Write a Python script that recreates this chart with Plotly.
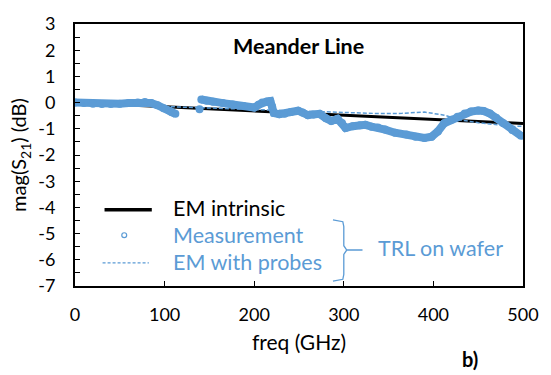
import plotly.graph_objects as go

# ---- data ----
f_intr = [0, 100, 200, 300, 400, 500]
v_intr = [0.0, -0.16, -0.31, -0.46, -0.63, -0.80]

f_probe = [0, 50, 100, 150, 200, 250, 300, 340, 365, 390, 412, 430, 450, 471, 490, 500]
v_probe = [0.0, -0.06, -0.15, -0.21, -0.27, -0.33, -0.38, -0.42, -0.41, -0.36, -0.48, -0.66, -0.77, -0.85, -0.91, -0.90]

f_meas1 = [0, 10, 20, 30, 40, 50, 60, 70, 78, 85, 92, 99, 105, 108, 112]
v_meas1 = [0.0, -0.02, -0.04, -0.05, -0.05, -0.04, -0.02, 0.0, 0.02, -0.02, -0.10, -0.22, -0.30, -0.37, -0.43]

f_meas2 = [139]
v_meas2 = [-0.25]

f_meas3 = [141, 147, 154, 165, 176, 188, 200, 205, 209, 214, 218, 220, 222, 228, 234, 241, 249, 254, 260,
           266, 273, 280, 286, 293, 298, 302, 310, 318, 324, 331, 338, 346, 357, 370, 380, 390, 398, 405,
           412, 420, 427, 435, 442, 450, 456, 463, 470, 478, 488, 498]
v_meas3 = [0.12, 0.07, 0.03, -0.02, -0.07, -0.13, -0.19, -0.08, 0.0, 0.04, 0.06, -0.15, -0.40, -0.44, -0.43,
           -0.36, -0.31, -0.38, -0.48, -0.45, -0.43, -0.60, -0.70, -0.62, -0.78, -0.97, -0.90, -0.86, -0.85,
           -0.92, -0.95, -1.03, -1.15, -1.22, -1.30, -1.35, -1.30, -1.10, -0.79, -0.65, -0.54, -0.42, -0.34,
           -0.30, -0.32, -0.42, -0.58, -0.79, -1.05, -1.27]

x_ticks = [0, 100, 200, 300, 400, 500]
y_ticks = [3, 2, 1, 0, -1, -2, -3, -4, -5, -6, -7]

BLUE = "#5B9BD5"
FONT = "Lato"

# ---- figure ----
fig = go.Figure()

fig.add_trace(go.Scatter(x=f_intr, y=v_intr, mode="lines",
                         line=dict(color="black", width=3), showlegend=False))

for fx, vy in [(f_meas1, v_meas1), (f_meas2, v_meas2), (f_meas3, v_meas3)]:
    fig.add_trace(go.Scatter(x=fx, y=vy, mode="lines+markers",
                             line=dict(color=BLUE, width=8),
                             marker=dict(color=BLUE, size=8),
                             showlegend=False))

fig.add_trace(go.Scatter(x=f_probe, y=v_probe, mode="lines",
                         line=dict(color=BLUE, width=1.5, dash="4px,2px"), showlegend=False))

# plot area pixel geometry
L, R, T, B = 75, 530, 13, 286
W, H = 551, 375


def px(x):
    return (x - L) / (R - L)


def py(y):
    return (B - y) / (B - T)


shapes = []
# legend symbols
shapes.append(dict(type="line", xref="paper", yref="paper", x0=px(105), x1=px(153), y0=py(206.5), y1=py(206.5),
                   line=dict(color="black", width=3.5)))
shapes.append(dict(type="circle", xref="paper", yref="paper", x0=px(122.5), x1=px(127.5), y0=py(230.5), y1=py(235.5),
                   line=dict(color=BLUE, width=1.2), fillcolor="white"))
shapes.append(dict(type="line", xref="paper", yref="paper", x0=px(103), x1=px(150), y0=py(262), y1=py(262),
                   line=dict(color=BLUE, width=1.3, dash="3px,2px")))
# brace
pts = [(337, 217), (347, 219), (348, 224), (348, 244), (351, 248.5), (367, 248.5),
       (351, 248.5), (348, 253), (348, 274), (347, 279), (337, 281)]
path = "M " + " L ".join(f"{px(a):.5f},{py(b):.5f}" for a, b in pts)
shapes.append(dict(type="path", xref="paper", yref="paper", path=path,
                   line=dict(color=BLUE, width=1.3)))

LEG = 21.5
annotations = [
    dict(text="<b>Meander Line</b>", x=px(302), y=py(36), xref="paper", yref="paper",
         showarrow=False, font=dict(size=21.5, color="black", family=FONT), xanchor="center", yanchor="middle"),
    dict(text="EM intrinsic", x=px(172), y=py(205), xref="paper", yref="paper",
         showarrow=False, font=dict(size=LEG, color="black", family=FONT), xanchor="left", yanchor="middle"),
    dict(text="Measurement", x=px(172), y=py(233), xref="paper", yref="paper",
         showarrow=False, font=dict(size=LEG, color=BLUE, family=FONT), xanchor="left", yanchor="middle"),
    dict(text="EM with probes", x=px(172), y=py(261), xref="paper", yref="paper",
         showarrow=False, font=dict(size=LEG, color=BLUE, family=FONT), xanchor="left", yanchor="middle"),
    dict(text="TRL on wafer", x=px(381), y=py(246.5), xref="paper", yref="paper",
         showarrow=False, font=dict(size=LEG, color=BLUE, family=FONT), xanchor="left", yanchor="middle"),
    dict(text="<b>b)</b>", x=px(476), y=py(362), xref="paper", yref="paper",
         showarrow=False, font=dict(size=20, color="black", family=FONT), xanchor="center", yanchor="middle"),
]

fig.update_layout(
    width=W, height=H,
    margin=dict(l=L, r=W - R, t=T, b=H - B),
    paper_bgcolor="white", plot_bgcolor="white",
    font=dict(family=FONT, size=18, color="black"),
    showlegend=False,
    shapes=shapes, annotations=annotations,
    xaxis=dict(range=[0, 500], tickvals=x_ticks, ticktext=[str(t) for t in x_ticks],
               ticks="inside", ticklen=5, tickwidth=1.2, tickcolor="black",
               showline=True, linecolor="black", linewidth=1.8, mirror=True,
               showgrid=False, zeroline=False, ticklabelstandoff=11,
               title=dict(text="freq (GHz)", font=dict(size=21), standoff=12)),
    yaxis=dict(range=[-7, 3], tickvals=y_ticks, ticktext=[str(t) for t in y_ticks],
               ticks="inside", ticklen=5, tickwidth=1.2, tickcolor="black",
               minor=dict(dtick=0.5, ticks="inside", ticklen=5, tickwidth=1.2, tickcolor="black", showgrid=False),
               showline=True, linecolor="black", linewidth=1.8, mirror=True,
               showgrid=False, zeroline=False, ticklabelstandoff=14,
               title=dict(text="mag(S<sub>21</sub>) (dB)", font=dict(size=20), standoff=6)),
)

fig.write_html("out.html")
